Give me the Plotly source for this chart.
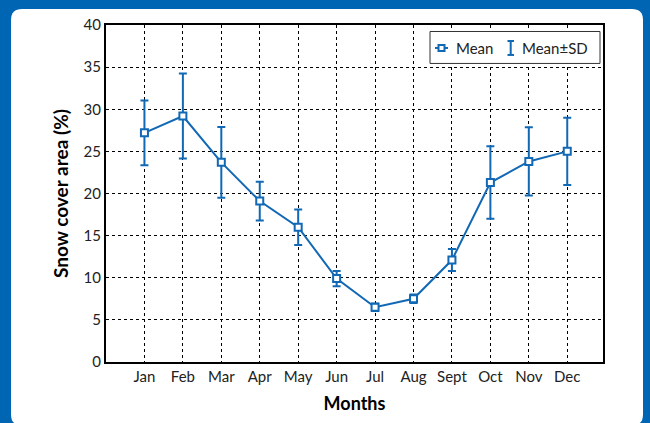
import plotly.graph_objects as go

months = ['Jan', 'Feb', 'Mar', 'Apr', 'May', 'Jun', 'Jul', 'Aug', 'Sept', 'Oct', 'Nov', 'Dec']
month_no = list(range(1, 13))
mean = [27.2, 29.2, 23.7, 19.1, 16.0, 9.9, 6.5, 7.5, 12.1, 21.3, 23.8, 25.0]
sd = [3.85, 5.05, 4.2, 2.3, 2.1, 0.9, 0.45, 0.5, 1.3, 4.3, 4.05, 4.0]

blue = '#1168b4'
bg_blue = '#0065b3'
W, H = 650, 423
# plot area in pixels
L, R, T, B = 106, 603, 25, 362.5

def px(x):
    return (x - L) / (R - L)

def py(y):
    return (B - y) / (B - T)

fig = go.Figure()
fig.add_trace(go.Scatter(
    x=month_no, y=mean, mode='lines+markers', name='Mean',
    line=dict(color=blue, width=2),
    marker=dict(symbol='square', size=7, color='white', line=dict(color=blue, width=2)),
    error_y=dict(type='data', array=sd, visible=True, color=blue, thickness=2, width=4),
    showlegend=False))

# white rounded card on the blue background
x0, x1, y0, y1, r = 11, 643, 9, 426, 11
card = (f'M {px(x0)},{py(y0 + r)} Q {px(x0)},{py(y0)} {px(x0 + r)},{py(y0)} '
        f'L {px(x1 - r)},{py(y0)} Q {px(x1)},{py(y0)} {px(x1)},{py(y0 + r)} '
        f'L {px(x1)},{py(y1 - r)} Q {px(x1)},{py(y1)} {px(x1 - r)},{py(y1)} '
        f'L {px(x0 + r)},{py(y1)} Q {px(x0)},{py(y1)} {px(x0)},{py(y1 - r)} Z')
shapes = [dict(type='path', path=card, xref='paper', yref='paper', fillcolor='white',
               line=dict(width=0), layer='below')]

# hand-made legend
ly = 48
shapes += [
    dict(type='rect', xref='paper', yref='paper', x0=px(430), x1=px(600), y0=py(31.5), y1=py(63.5),
         line=dict(color='#333333', width=1), fillcolor='white'),
    dict(type='line', xref='paper', yref='paper', x0=px(435), x1=px(448), y0=py(ly), y1=py(ly),
         line=dict(color=blue, width=2)),
    dict(type='rect', xref='paper', yref='paper', x0=px(438.5), x1=px(444.5), y0=py(ly - 3), y1=py(ly + 3),
         line=dict(color=blue, width=2), fillcolor='white'),
    dict(type='line', xref='paper', yref='paper', x0=px(510.7), x1=px(510.7), y0=py(ly - 7), y1=py(ly + 7),
         line=dict(color=blue, width=2)),
    dict(type='line', xref='paper', yref='paper', x0=px(507.5), x1=px(514), y0=py(ly - 7), y1=py(ly - 7),
         line=dict(color=blue, width=2)),
    dict(type='line', xref='paper', yref='paper', x0=px(507.5), x1=px(514), y0=py(ly + 7), y1=py(ly + 7),
         line=dict(color=blue, width=2)),
]
font = 'Lato, Open Sans, sans-serif'
annotations = [
    dict(text='Mean', x=px(454), y=py(ly), xref='paper', yref='paper', xanchor='left', yanchor='middle',
         showarrow=False, font=dict(size=15, color='#222222', family=font)),
    dict(text='Mean±SD', x=px(520), y=py(ly), xref='paper', yref='paper', xanchor='left', yanchor='middle',
         showarrow=False, font=dict(size=15, color='#222222', family=font)),
]

axis_style = dict(showgrid=True, gridcolor='black', griddash='dot', gridwidth=1,
                  showline=True, linecolor='black', linewidth=2, mirror=True,
                  zeroline=False, ticks='', tickfont=dict(size=15, color='#222222', family=font))

fig.update_layout(
    width=W, height=H,
    margin=dict(l=L, r=W - R, t=T, b=H - B),
    paper_bgcolor=bg_blue, plot_bgcolor='white',
    shapes=shapes, annotations=annotations,
    xaxis=dict(range=[0, 12.93], tickvals=month_no, ticktext=months,
               title=dict(text='<b>Months</b>', standoff=13, font=dict(size=18, color='black', family=font)),
               **axis_style),
    yaxis=dict(range=[0, 40], dtick=5,
               title=dict(text='<b>Snow cover area (%)</b>', standoff=10, font=dict(size=19, color='black', family=font)),
               **axis_style),
)

# no page margin around the figure
fig.write_html('out.html', config={'displayModeBar': False},
               post_script="document.body.style.margin='0';")
